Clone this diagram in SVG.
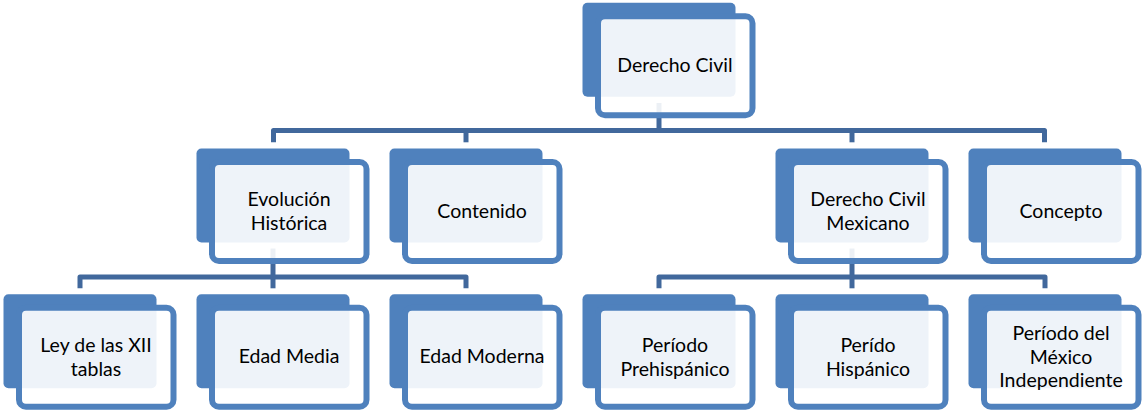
<svg xmlns="http://www.w3.org/2000/svg" width="1143" height="414" viewBox="0 0 1143 414">
  <style>
    .back { fill: #4F81BD; }
    .front { fill: #FFFFFF; fill-opacity: 0.9; stroke: #4F81BD; stroke-width: 6; }
    .conn { fill: none; stroke: #41689C; stroke-width: 5; stroke-linejoin: round; }
    .label { font-family: Lato, "Liberation Sans", sans-serif; font-size: 19.5px; fill: #000000; text-anchor: middle; }
  </style>
  <defs>
    <!-- one org-chart box: filled card behind, translucent outlined card in front -->
    <g id="box">
      <rect class="back" x="-76.5" y="0" width="153" height="94" rx="5"/>
      <rect class="front" x="-61" y="13.5" width="154.5" height="99" rx="7"/>
    </g>
  </defs>

  <!-- connectors -->
  <g id="connectors">
    <path class="conn" d="M659 103 V130.5"/>
    <path class="conn" d="M273.5 142.3 V130.5 H1044.5 V142.3"/>
    <path class="conn" d="M466 130.5 V142.3"/>
    <path class="conn" d="M852 130.5 V142.3"/>
    <path class="conn" d="M273 248.5 V288.3"/>
    <path class="conn" d="M80 288.3 V277 H466 V288.3"/>
    <path class="conn" d="M852 248.5 V288.3"/>
    <path class="conn" d="M659 288.3 V277 H1045 V288.3"/>
  </g>

  <!-- level 1 -->
  <g id="derecho-civil" transform="translate(659,2.7)">
    <use href="#box"/>
    <text class="label" x="16" y="69">Derecho Civil</text>
  </g>

  <!-- level 2 -->
  <g id="evolucion-historica" transform="translate(273,148.5)">
    <use href="#box"/>
    <text class="label" x="16" y="57.5">Evolución</text>
    <text class="label" x="16" y="81">Histórica</text>
  </g>
  <g id="contenido" transform="translate(466,148.5)">
    <use href="#box"/>
    <text class="label" x="16" y="69">Contenido</text>
  </g>
  <g id="derecho-civil-mexicano" transform="translate(852,148.5)">
    <use href="#box"/>
    <text class="label" x="16" y="57.5">Derecho Civil</text>
    <text class="label" x="16" y="81">Mexicano</text>
  </g>
  <g id="concepto" transform="translate(1045,148.5)">
    <use href="#box"/>
    <text class="label" x="16" y="69">Concepto</text>
  </g>

  <!-- level 3 -->
  <g id="ley-xii-tablas" transform="translate(80,294.3)">
    <use href="#box"/>
    <text class="label" x="16" y="58">Ley de las XII</text>
    <text class="label" x="16" y="81.5">tablas</text>
  </g>
  <g id="edad-media" transform="translate(273,294.3)">
    <use href="#box"/>
    <text class="label" x="16" y="69">Edad Media</text>
  </g>
  <g id="edad-moderna" transform="translate(466,294.3)">
    <use href="#box"/>
    <text class="label" x="16" y="69">Edad Moderna</text>
  </g>
  <g id="periodo-prehispanico" transform="translate(659,294.3)">
    <use href="#box"/>
    <text class="label" x="16" y="58">Período</text>
    <text class="label" x="16" y="81.5">Prehispánico</text>
  </g>
  <g id="perido-hispanico" transform="translate(852,294.3)">
    <use href="#box"/>
    <text class="label" x="16" y="58">Perído</text>
    <text class="label" x="16" y="81.5">Hispánico</text>
  </g>
  <g id="periodo-mexico-independiente" transform="translate(1045,294.3)">
    <use href="#box"/>
    <text class="label" x="16" y="46">Período del</text>
    <text class="label" x="16" y="69.5">México</text>
    <text class="label" x="16" y="93">Independiente</text>
  </g>
</svg>
